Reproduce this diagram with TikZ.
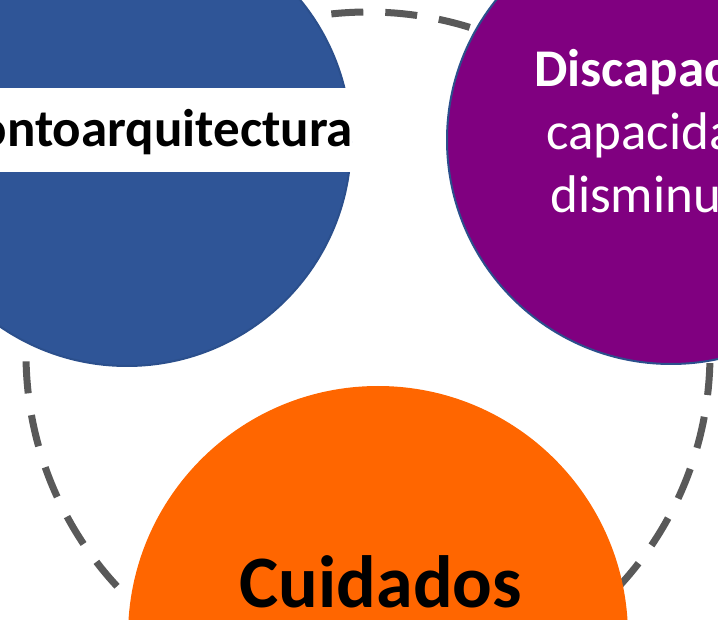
\documentclass[tikz,border=0pt]{standalone}
\usepackage{fontspec}
\setmainfont{Carlito}
\definecolor{gerblue}{HTML}{2F5597}
\definecolor{edgeblue}{HTML}{2B4F8C}
\definecolor{discpurple}{HTML}{800080}
\definecolor{cuidorange}{HTML}{FF6600}
\definecolor{ringgray}{HTML}{595959}
\begin{document}
\begin{tikzpicture}[x=1pt,y=-1pt,
  bubble/.style={circle, inner sep=0pt, minimum size=448pt, draw=edgeblue, line width=2pt},
  label/.style={inner sep=0pt, font=\fontsize{53}{63}\selectfont}]
\useasboundingbox (0,0) rectangle (718,620);
\clip (0,0) rectangle (718,620);
% Draw the dashed ring behind the circles
\draw[ringgray, line width=7pt, dash pattern=on 32pt off 22pt, dash phase=52pt] (368,354) circle (342pt);
% Draw the three circles
\node[bubble, fill=gerblue] (ger) at (127,142) {};
\node[bubble, fill=discpurple] (disc) at (671,140) {};
\node[bubble, fill=cuidorange, draw=none, minimum size=500pt] (cuid) at (378,636) {};
% White band with the text over the blue circle
\fill[white] (-100,88) rectangle (352,172);
\node[label, anchor=base east, font=\fontsize{53}{63}\selectfont\bfseries] (gertxt) at (353,147) {ontoarquitectura};
% Text in the purple circle, cut off at the right
\node[label, anchor=base west, text=white, font=\fontsize{53}{63}\selectfont\bfseries] (disc1) at (534,87) {Discapac};
\node[label, anchor=base west, text=white] (disc2) at (546,150) {capacida};
\node[label, anchor=base west, text=white] (disc3) at (550,213) {disminu};
% Text in the orange circle
\node[label, anchor=base, font=\fontsize{74}{88}\selectfont\bfseries] (cuidtxt) at (381,607) {Cuidados};
\end{tikzpicture}
\end{document}
